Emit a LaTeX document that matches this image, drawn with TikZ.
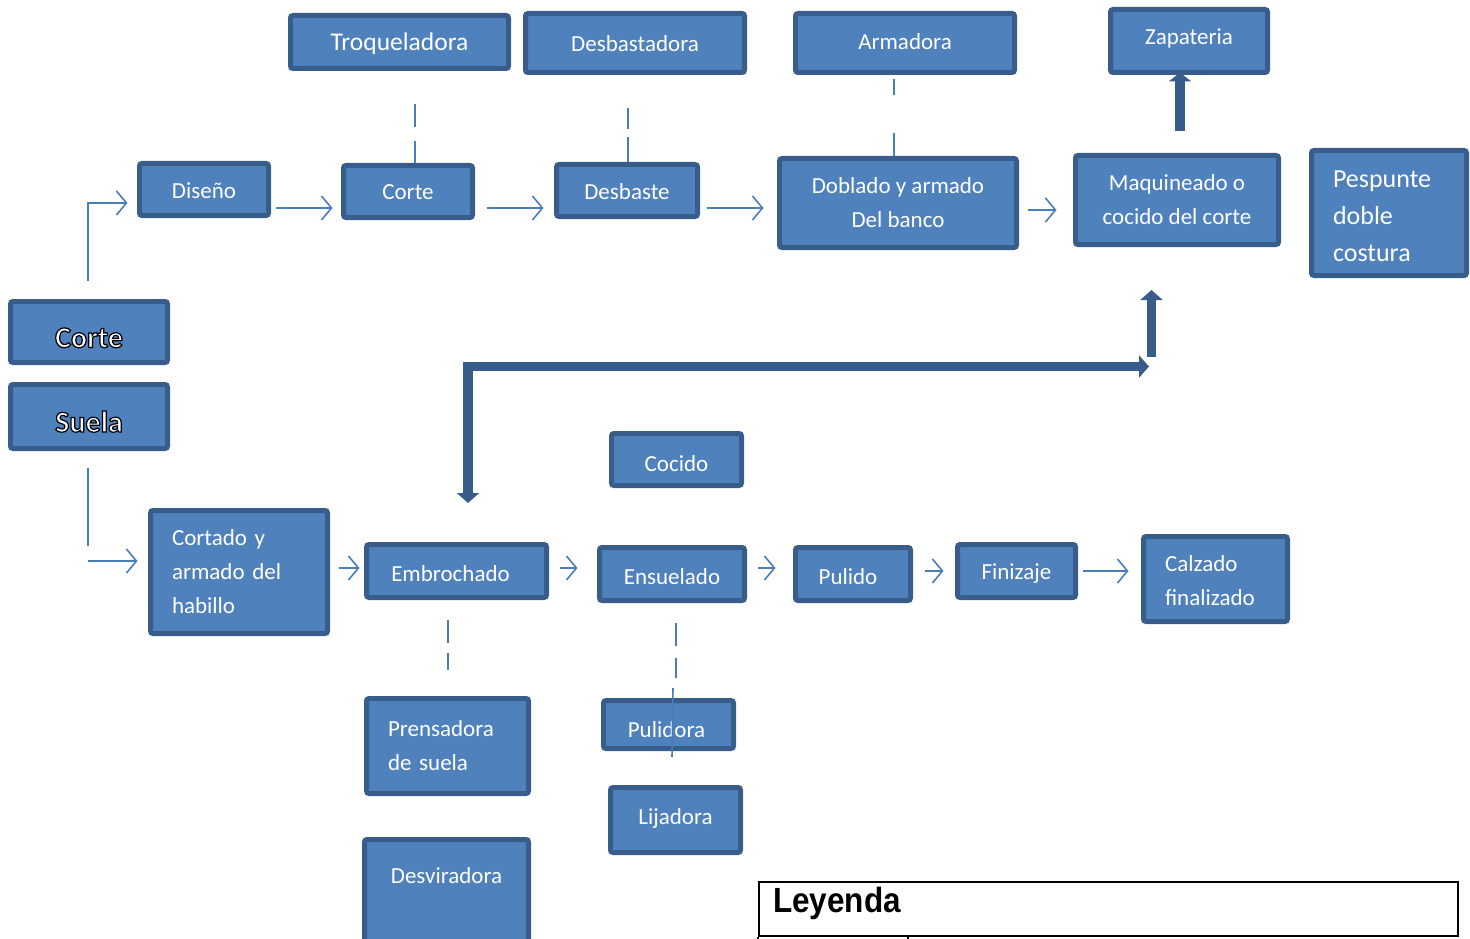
\documentclass[tikz,border=0pt]{standalone}
\usepackage{fontspec}
\setmainfont{Carlito}
\newfontfamily\legfont{Liberation Sans}
\usetikzlibrary{arrows.meta}
\definecolor{boxfill}{HTML}{4F81BD}
\definecolor{boxline}{HTML}{385D8A}
\definecolor{flowline}{HTML}{4A7EBB}
\newcommand{\mybox}[7][box]{\node[#1,minimum width={#5-#3-5},minimum height={#6-#4-5}] (#2) at ({(#3+#5)/2},{(#4+#6)/2}) {#7};}
\newcommand{\outlined}[1]{\special{pdf:literal direct q 0 0 0 RG 1.2 w 2 Tr}\textbf{#1}\special{pdf:literal direct Q}}
\newcommand{\hflow}[5]{\draw[flow,shorten <={#4},shorten >={#5}] (#1.east |- 0,#3) -- (#2.west |- 0,#3);}
\begin{document}
\begin{tikzpicture}[x=1pt,y=-1pt,
  boxbase/.style={draw=boxline, fill=boxfill, line width=5pt, rounded corners=2.5pt, text=white, inner sep=0pt, font=\fontsize{23}{34}\selectfont},
  box/.style={boxbase, text height=20pt, text depth=3pt},
  mbox/.style={boxbase, align=center},
  lbox/.style={boxbase, align=left},
  obox/.style={boxbase, font=\fontsize{30}{34}\selectfont, text height=34pt, text depth=3pt},
  flow/.style={draw=flowline, line width=1.6pt, -{Straight Barb[length=10pt,width=24pt]}},
  link/.style={draw=flowline, line width=1.6pt},
  bigarrow/.style={draw=boxline, line width=9.5pt, line join=miter}]
\useasboundingbox (0,0) rectangle (1470,939);
\clip (0,0) rectangle (1470,939);
% top row
\mybox[box,font=\fontsize{25.5}{30}\selectfont]{troq}{288}{13}{511}{71}{Troqueladora}
\mybox{desbd}{523}{11}{747}{75}{Desbastadora}
\mybox[box,text depth=6pt]{armad}{793}{11}{1017}{75}{Armadora}
\mybox[box,text depth=12pt]{zap}{1108}{7}{1270}{75}{Zapateria}
\mybox{diseno}{137}{161}{271}{218}{Diseño}
\mybox{cortet}{341}{163}{475}{220}{Corte}
\mybox{desbaste}{554}{162}{700}{219}{Desbaste}
\mybox[mbox]{doblado}{777}{156}{1019}{250}{Doblado y armado\\Del banco}
\mybox[mbox]{maq}{1073}{153}{1281}{247}{Maquineado o\\cocido del corte}
\mybox[lbox,text width=112pt,font=\fontsize{26}{37}\selectfont]{pesp}{1309}{148}{1469}{278}{\rule{0pt}{24pt}Pespunte\\doble\\costura}
% left
\mybox[obox]{cortebig}{8}{299}{170}{365}{\outlined{Corte}}
\mybox[obox]{suela}{8}{382}{170}{451}{\outlined{Suela}}
% bottom row
\mybox[box,text height=23pt,text depth=0pt]{cocido}{609}{431}{744}{488}{Cocido}
\mybox[lbox,text width=134pt]{cortado}{148}{508}{330}{636}{Cortado y\\armado del\\habillo}
\mybox[box,text depth=0pt]{embro}{364}{542}{549}{600}{\hspace*{-12pt}Embrochado}
\mybox[box,text depth=0pt]{ensuel}{597}{545}{747}{603}{Ensuelado}
\mybox[box,text depth=0pt]{pulido}{793}{545}{913}{603}{\hspace*{-10pt}Pulido}
\mybox{finiz}{955}{542}{1078}{600}{Finizaje}
\mybox[lbox,text width=101pt]{calzado}{1141}{534}{1290}{624}{\rule{0pt}{19pt}Calzado\\finalizado}
\mybox[lbox,text width=119pt]{prens}{364}{696}{531}{796}{Prensadora\\de suela}
\mybox[box,text height=25pt,text depth=0pt]{pulidora}{601}{698}{736}{751}{\hspace*{-4pt}Pulidora}
\mybox[box,text depth=12pt]{lija}{608}{785}{743}{855}{Lijadora}
\mybox[box,text height=20pt,text depth=56pt]{desv}{362}{837}{531}{965}{Desviradora}
% thin flow arrows
\draw[flow, shorten <=18.5pt, shorten >=9.5pt] (cortebig.north -| 88,0) |- (diseno.west |- 0,203);
\hflow{diseno}{cortet}{208}{4.5pt}{8.5pt}
\hflow{cortet}{desbaste}{208}{11.5pt}{10.5pt}
\hflow{desbaste}{doblado}{208}{6.5pt}{13.5pt}
\hflow{doblado}{maq}{210}{8.5pt}{16.5pt}
\coordinate (sE) at (88,546);
\draw[link, shorten <=16.5pt] (suela.south -| 88,0) -- (sE);
\coordinate (sA) at (88,561);
\draw[flow, shorten >=10.5pt] (sA) -- (cortado.west |- sA);
\hflow{cortado}{embro}{568}{8.5pt}{4.5pt}
\hflow{embro}{ensuel}{568}{10.5pt}{19.5pt}
\hflow{ensuel}{pulido}{568}{10.5pt}{17.5pt}
\hflow{pulido}{finiz}{571}{11.5pt}{11.5pt}
\hflow{finiz}{calzado}{571}{4.5pt}{12.5pt}
% dashed links
\draw[link, dash pattern=on 23pt off 14pt on 60pt, shorten <=33.5pt] (troq.south -| 415,0) -- (cortet.north -| 415,0);
\draw[link, dash pattern=on 21pt off 8pt on 60pt, shorten <=33.5pt] (desbd.south -| 628,0) -- (desbaste.north -| 628,0);
\draw[link, dash pattern=on 16pt off 38pt on 60pt, shorten <=4.5pt] (armad.south -| 894,0) -- (doblado.north -| 894,0);
\draw[link, dash pattern=on 23pt off 10pt on 60pt, shorten <=19.5pt, shorten >=26.5pt] (embro.south -| 448,0) -- (prens.north -| 448,0);
\draw[link, dash pattern=on 23pt off 12pt on 60pt, shorten <=19.5pt, shorten >=20.5pt] (ensuel.south -| 676,0) -- (pulidora.north -| 676,0);
\coordinate (pl1) at (673,688);
\coordinate (pl2) at (672,757);
\draw[link] (pl1) -- (pl2);
% thick arrows
\draw[bigarrow, -{Triangle[width=22pt,length=9pt]}, shorten <=21.5pt, shorten >=-2.5pt] (maq.north -| 1180,0) -- (zap.south -| 1180,0);
\coordinate (eR) at (1149,366.5);
\coordinate (eC) at (468,366.5);
\coordinate (eD) at (468,503);
\draw[bigarrow, {Triangle[width=22pt,length=10pt]}-{Triangle[width=22pt,length=10pt]}] (eD) -- (eC) -- (eR);
\coordinate (uS) at (1151.5,357);
\coordinate (uT) at (1151.5,290);
\draw[bigarrow, -{Triangle[width=22pt,length=10pt]}] (uS) -- (uT);
% legend
\node[draw=black, line width=2pt, minimum width={1459-758-2}, minimum height={937-881-2}, inner sep=0pt] (leyenda) at ({(758+1459)/2},{(881+937)/2}) {};
\node[font=\legfont\bfseries\fontsize{35}{40}\selectfont, anchor=base west, inner sep=0pt] (leyendaT) at (773,912) {\scalebox{0.9}[1]{Leyenda}};
\draw[line width=2pt] (leyenda.south west) -- ++(0,10);
\draw[line width=2pt] (leyenda.south -| 908,0) -- ++(0,10);
\end{tikzpicture}
\end{document}
